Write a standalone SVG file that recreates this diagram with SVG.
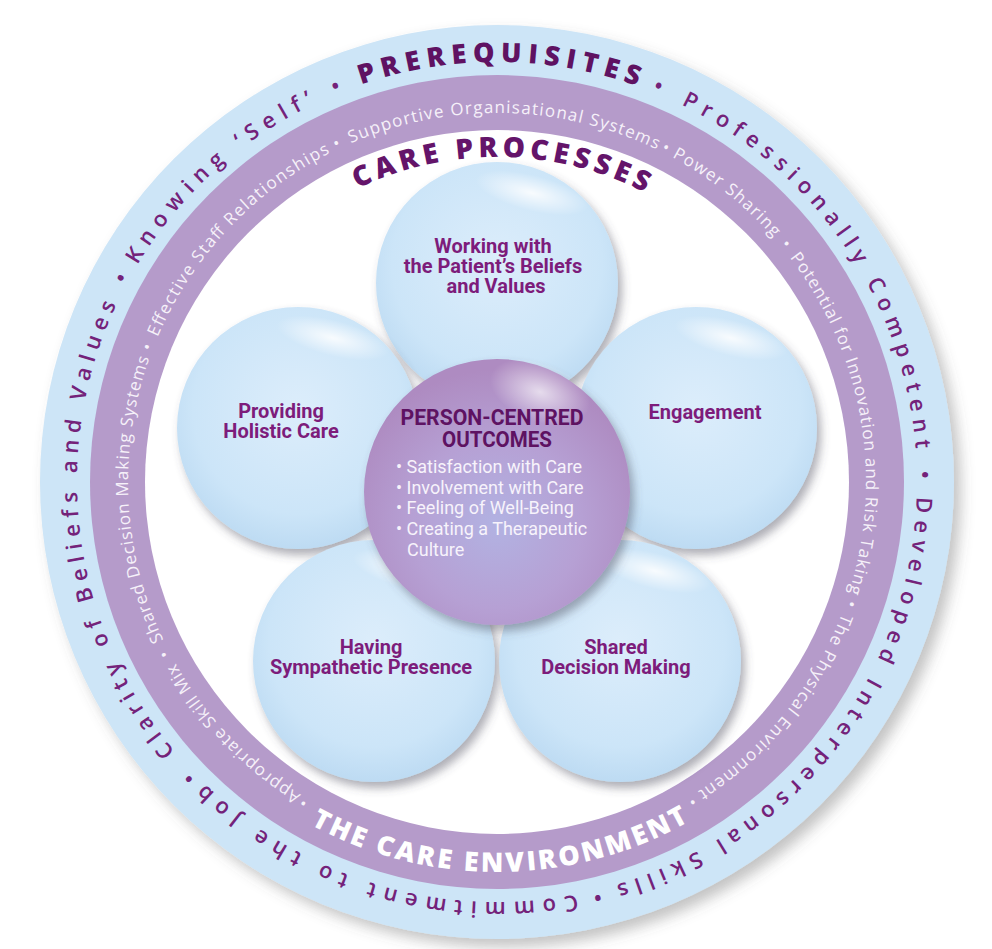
<svg xmlns="http://www.w3.org/2000/svg" width="992" height="949" viewBox="0 0 992 949">
<defs>
  <style>
    .outer { font-family: "Open Sans", "DejaVu Sans", sans-serif; font-size: 22px; font-weight: 600; fill: #74227a; }
    .caps { font-family: "Open Sans", "DejaVu Sans", sans-serif; font-size: 27px; font-weight: 800; fill: #5f1262; }
    .inner { font-family: "Open Sans", "DejaVu Sans", sans-serif; font-size: 17px; font-weight: 400; fill: #f6f1f9; }
    .env { font-family: "Open Sans", "DejaVu Sans", sans-serif; font-size: 27px; font-weight: 800; fill: #ffffff; }
    .cp { font-family: "Open Sans", "DejaVu Sans", sans-serif; font-size: 28px; font-weight: 800; fill: #64146a; }
    .pt { font-family: Roboto, "Liberation Sans", sans-serif; font-size: 20px; font-weight: 700; fill: #7d1c7b; text-anchor: middle; }
    .ch { font-family: Roboto, "Liberation Sans", sans-serif; font-size: 22px; font-weight: 700; fill: #5e1262; text-anchor: middle; }
    .ci { font-family: Roboto, "Liberation Sans", sans-serif; font-size: 18px; font-weight: 400; fill: #f7f3fb; }
    .petal { fill: url(#petalGrad); filter: url(#sh); }
    .gloss { fill: url(#glossGrad); }
  </style>
  <radialGradient id="petalGrad" cx="50%" cy="42%" r="62%">
    <stop offset="0" stop-color="#dcedfb"/>
    <stop offset="0.7" stop-color="#cce5f8"/>
    <stop offset="1" stop-color="#b9d8f1"/>
  </radialGradient>
  <radialGradient id="glossGrad" cx="50%" cy="50%" r="50%">
    <stop offset="0" stop-color="#ffffff" stop-opacity="0.85"/>
    <stop offset="1" stop-color="#ffffff" stop-opacity="0"/>
  </radialGradient>
  <radialGradient id="centerGrad" cx="50%" cy="62%" r="58%">
    <stop offset="0" stop-color="#b2b2e2"/>
    <stop offset="0.55" stop-color="#b6a0d4"/>
    <stop offset="1" stop-color="#ae8bc1"/>
  </radialGradient>
  <filter id="sh" x="-20%" y="-20%" width="150%" height="150%">
    <feDropShadow dx="4" dy="6" stdDeviation="5" flood-color="#4a4a5a" flood-opacity="0.45"/>
  </filter>
  <filter id="shRing" x="-10%" y="-10%" width="125%" height="125%">
    <feDropShadow dx="7" dy="8" stdDeviation="7" flood-color="#555" flood-opacity="0.35"/>
  </filter>
  <path id="outerPath" d="M 497 62 A 420 420 0 1 1 497 902 A 420 420 0 1 1 497 62 A 420 420 0 1 1 497 902 A 420 420 0 1 1 497 62"/>
  <path id="purplePath" d="M 497 113 A 369 369 0 1 1 497 851 A 369 369 0 1 1 497 113 A 369 369 0 1 1 497 851 A 369 369 0 1 1 497 113"/>
  <path id="envPath" d="M 107 482 A 390 390 0 0 0 887 482"/>
  <path id="cpPath" d="M 172 482 A 325 325 0 0 1 822 482"/>
</defs>

<rect width="992" height="949" fill="#ffffff"/>

<g id="ring-prerequisites">
  <circle cx="497" cy="482" r="457" fill="#cde5f7" filter="url(#shRing)"/>
  <text class="outer"><textPath href="#outerPath" startOffset="2206.5" textLength="241.9" lengthAdjust="spacing">Knowing ‘Self’</textPath></text>
  <text class="outer" text-anchor="middle"><textPath href="#outerPath" startOffset="2475.5">•</textPath></text>
  <text class="caps"><textPath href="#outerPath" startOffset="2499.7" textLength="281.5" lengthAdjust="spacing">PREREQUISITES</textPath></text>
  <text class="outer" text-anchor="middle"><textPath href="#outerPath" startOffset="162.7">•</textPath></text>
  <text class="outer"><textPath href="#outerPath" startOffset="190.6" textLength="436" lengthAdjust="spacing">Professionally Competent</textPath></text>
  <text class="outer" text-anchor="middle"><textPath href="#outerPath" startOffset="652.4">•</textPath></text>
  <text class="outer"><textPath href="#outerPath" startOffset="674.4" textLength="524" lengthAdjust="spacing">Developed Interpersonal Skills</textPath></text>
  <text class="outer" text-anchor="middle"><textPath href="#outerPath" startOffset="1219.1">•</textPath></text>
  <text class="outer"><textPath href="#outerPath" startOffset="1238.8" textLength="403" lengthAdjust="spacing">Commitment to the Job</textPath></text>
  <text class="outer" text-anchor="middle"><textPath href="#outerPath" startOffset="1656.7">•</textPath></text>
  <text class="outer"><textPath href="#outerPath" startOffset="1686" textLength="476" lengthAdjust="spacing">Clarity of Beliefs and Values</textPath></text>
  <text class="outer" text-anchor="middle"><textPath href="#outerPath" startOffset="2187.4">•</textPath></text>
</g>

<g id="ring-care-environment">
  <circle cx="497" cy="482" r="407" fill="#b59bca"/>
  <circle cx="497" cy="482" r="352" fill="#ffffff"/>
  <text class="inner"><textPath href="#purplePath" startOffset="1365.3" textLength="183.5" lengthAdjust="spacing">Appropriate Skill Mix</textPath></text>
  <text class="inner" text-anchor="middle"><textPath href="#purplePath" startOffset="1561.8">•</textPath></text>
  <text class="inner"><textPath href="#purplePath" startOffset="1574.7" textLength="289.8" lengthAdjust="spacing">Shared Decision Making Systems</textPath></text>
  <text class="inner" text-anchor="middle"><textPath href="#purplePath" startOffset="1874.1">•</textPath></text>
  <text class="inner"><textPath href="#purplePath" startOffset="1887" textLength="257.6" lengthAdjust="spacing">Effective Staff Relationships</textPath></text>
  <text class="inner" text-anchor="middle"><textPath href="#purplePath" startOffset="2154.3">•</textPath></text>
  <text class="inner"><textPath href="#purplePath" startOffset="2167.2" textLength="315.6" lengthAdjust="spacing">Supportive Organisational Systems</textPath></text>
  <text class="inner" text-anchor="middle"><textPath href="#purplePath" startOffset="172.6">•</textPath></text>
  <text class="inner"><textPath href="#purplePath" startOffset="182.3" textLength="130.1" lengthAdjust="spacing">Power Sharing</textPath></text>
  <text class="inner" text-anchor="middle"><textPath href="#purplePath" startOffset="325.2">•</textPath></text>
  <text class="inner"><textPath href="#purplePath" startOffset="338.1" textLength="354.2" lengthAdjust="spacing">Potential for Innovation and Risk Taking</textPath></text>
  <text class="inner" text-anchor="middle"><textPath href="#purplePath" startOffset="702">•</textPath></text>
  <text class="inner"><textPath href="#purplePath" startOffset="713.6" textLength="233.1" lengthAdjust="spacing">The Physical Environment</textPath></text>
  <text class="inner" text-anchor="middle"><textPath href="#purplePath" startOffset="956.4">•</textPath></text>
  <text class="inner" text-anchor="middle"><textPath href="#purplePath" startOffset="1358.9">•</textPath></text>
  <text class="env" text-anchor="middle"><textPath href="#envPath" startOffset="615.6" textLength="395" lengthAdjust="spacing">THE CARE ENVIRONMENT</textPath></text>
</g>

<g id="care-processes-label">
  <text class="cp" text-anchor="middle"><textPath href="#cpPath" startOffset="514.8" textLength="298" lengthAdjust="spacing">CARE PROCESSES</textPath></text>
</g>

<g id="connectors"></g>

<g id="petal-beliefs">
  <circle class="petal" cx="497" cy="283" r="121"/>
  <ellipse class="gloss" cx="532" cy="193" rx="58" ry="18" transform="rotate(14 532 193)"/>
  <text class="pt" x="493" y="253">Working with</text>
  <text class="pt" x="493" y="273">the Patient’s Beliefs</text>
  <text class="pt" x="496" y="293">and Values</text>
</g>
<g id="petal-holistic">
  <circle class="petal" cx="298" cy="428" r="121"/>
  <ellipse class="gloss" cx="333" cy="338" rx="58" ry="18" transform="rotate(14 333 338)"/>
  <text class="pt" x="281" y="418">Providing</text>
  <text class="pt" x="281" y="438">Holistic Care</text>
</g>
<g id="petal-engagement">
  <circle class="petal" cx="696" cy="428" r="121"/>
  <ellipse class="gloss" cx="731" cy="338" rx="58" ry="18" transform="rotate(14 731 338)"/>
  <text class="pt" x="705" y="419">Engagement</text>
</g>
<g id="petal-sympathetic">
  <circle class="petal" cx="374" cy="661" r="121"/>
  <ellipse class="gloss" cx="409" cy="571" rx="58" ry="18" transform="rotate(14 409 571)"/>
  <text class="pt" x="371" y="654">Having</text>
  <text class="pt" x="371" y="674">Sympathetic Presence</text>
</g>
<g id="petal-shared">
  <circle class="petal" cx="620" cy="661" r="121"/>
  <ellipse class="gloss" cx="655" cy="571" rx="58" ry="18" transform="rotate(14 655 571)"/>
  <text class="pt" x="616" y="654">Shared</text>
  <text class="pt" x="616" y="674">Decision Making</text>
</g>

<g id="center-outcomes">
  <circle cx="497" cy="492" r="133" fill="url(#centerGrad)" filter="url(#sh)"/>
  <ellipse cx="540" cy="392" rx="52" ry="30" fill="url(#glossGrad)" opacity="0.8" transform="rotate(20 540 392)"/>
  <text class="ch" x="492" y="425" textLength="183" lengthAdjust="spacingAndGlyphs">PERSON-CENTRED</text>
  <text class="ch" x="497" y="447" textLength="110" lengthAdjust="spacingAndGlyphs">OUTCOMES</text>
  <text class="ci" x="396" y="473">• Satisfaction with Care</text>
  <text class="ci" x="396" y="493.5">• Involvement with Care</text>
  <text class="ci" x="396" y="514">• Feeling of Well-Being</text>
  <text class="ci" x="396" y="535">• Creating a Therapeutic</text>
  <text class="ci" x="407" y="556">Culture</text>
</g>
</svg>
